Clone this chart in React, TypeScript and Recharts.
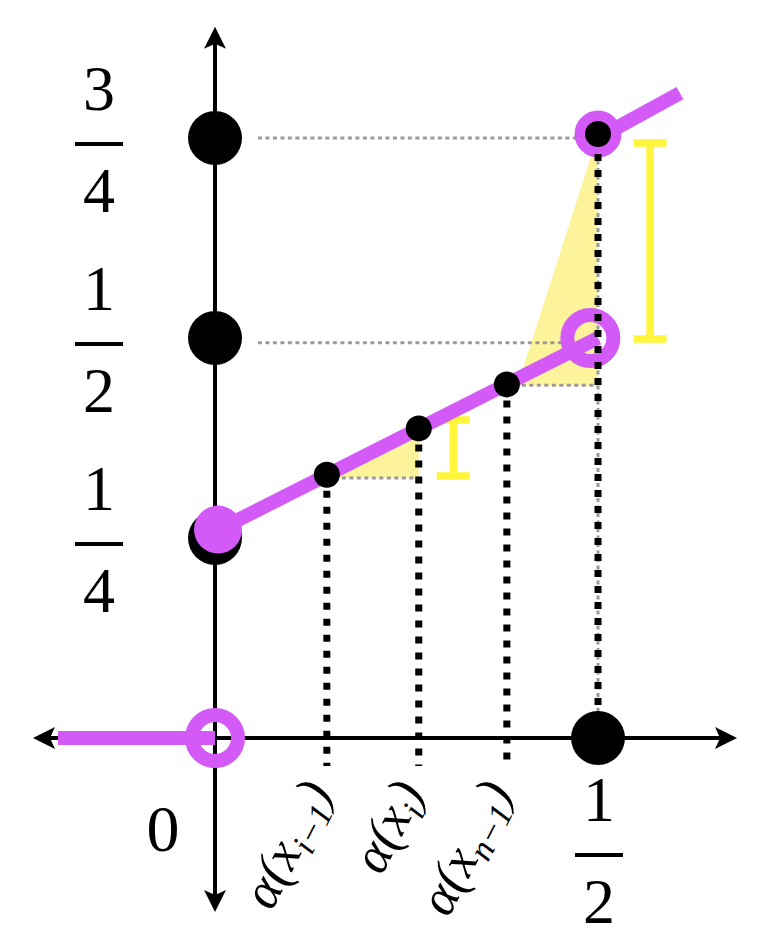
import {
  ComposedChart, XAxis, YAxis, Line, Area, Scatter, ErrorBar, ReferenceLine,
} from 'recharts';

const PURPLE = '#d35af7';
const PALE = '#fcf39a';
const YELLOW = '#fff53a';
const GRAY = '#9b9b9b';
const SERIF = '"Liberation Serif", "Times New Roman", serif';

// sample points on the ramp
const sampleX = [0.146, 0.266, 0.381];
const sampleY = [0.329, 0.387, 0.442];
const sampleSubs = ['i\u22121', 'i', 'n\u22121'];

// the purple step function
const stepLeft = [{ x: -0.205, y: 0 }, { x: 0, y: 0 }];
const rampMid = [{ x: 0, y: 0.258 }, { x: 0.5, y: 0.5 }];
const rampTop = [{ x: 0.5, y: 0.75 }, { x: 0.607, y: 0.806 }];

// markers
const tickDots = [{ x: 0, y: 0.25 }, { x: 0, y: 0.5 }, { x: 0, y: 0.75 }, { x: 0.5, y: 0 }];
const openRings = [{ x: 0, y: 0 }, { x: 0.49, y: 0.5 }];
const smallRing = [{ x: 0.5, y: 0.755 }];
const filledStart = [{ x: 0, y: 0.258 }];
const smallDots = [
  { x: sampleX[0], y: sampleY[0] },
  { x: sampleX[1], y: sampleY[1] },
  { x: sampleX[2], y: sampleY[2] },
  { x: 0.5, y: 0.755 },
];

// shaded triangles, [low, high]
const smallTri = [
  { x: sampleX[0], band: [0.325, 0.325] },
  { x: sampleX[1], band: [0.325, sampleY[1]] },
];
const bigTri = [
  { x: 0.395, band: [0.441, 0.441] },
  { x: 0.493, band: [0.441, 0.733] },
  { x: 0.5, band: [0.441, 0.733] },
];

// yellow interval bars
const gaps = [
  { x: 0.311, y: 0.3625, err: 0.035 },
  { x: 0.568, y: 0.62125, err: 0.1225 },
];

// axis arrow tips
const arrows = [
  { x: -0.2376, y: 0, dir: 'left' },
  { x: 0.6815, y: 0, dir: 'right' },
  { x: 0, y: 0.889, dir: 'up' },
  { x: 0, y: -0.2175, dir: 'down' },
];

const yTicks = [0.25, 0.5, 0.75];
const yTickFrac = [['1', '4'], ['1', '2'], ['3', '4']];
const xTicks = [0, sampleX[0], sampleX[1], sampleX[2], 0.5];

const grayGuides = [
  [{ x: 0.056, y: 0.75 }, { x: 0.48, y: 0.75 }],
  [{ x: 0.056, y: 0.494 }, { x: 0.455, y: 0.494 }],
  [{ x: sampleX[0], y: 0.325 }, { x: sampleX[1], y: 0.325 }],
  [{ x: sampleX[2], y: 0.441 }, { x: 0.5, y: 0.441 }],
  [{ x: 0.5, y: 0.75 }, { x: 0.5, y: 0 }],
];
const blackGuides = [
  [{ x: sampleX[0], y: sampleY[0] }, { x: sampleX[0], y: -0.035 }],
  [{ x: sampleX[1], y: sampleY[1] }, { x: sampleX[1], y: -0.035 }],
  [{ x: sampleX[2], y: sampleY[2] }, { x: sampleX[2], y: -0.035 }],
  [{ x: 0.5, y: 0.75 }, { x: 0.5, y: 0 }],
];

function Fraction({ cx, barY, num, den }: { cx: number; barY: number; num: string; den: string }) {
  return (
    <g>
      <text x={cx} y={barY - 34} textAnchor="middle" fontSize={64} fontFamily={SERIF} fill="#000">{num}</text>
      <line x1={cx - 24} x2={cx + 24} y1={barY} y2={barY} stroke="#000" strokeWidth={4} />
      <text x={cx} y={barY + 68} textAnchor="middle" fontSize={64} fontFamily={SERIF} fill="#000">{den}</text>
    </g>
  );
}

function YTick(props: any) {
  const i = yTicks.indexOf(props.payload.value);
  if (i < 0) return <g />;
  return <Fraction cx={99} barY={props.y + 6} num={yTickFrac[i][0]} den={yTickFrac[i][1]} />;
}

function XTick(props: any) {
  const v = props.payload.value;
  const x = props.x;
  if (v === 0) {
    return <text x={x - 52} y={851} textAnchor="middle" fontSize={66} fontFamily={SERIF} fill="#000">0</text>;
  }
  if (v === 0.5) return <Fraction cx={x + 1} barY={855} num="1" den="2" />;
  const i = sampleX.indexOf(v);
  return (
    <text
      transform={`translate(${x + 6},792) rotate(-63)`}
      textAnchor="end"
      fontSize={52}
      fontStyle="italic"
      fontFamily={SERIF}
      fill="#000"
    >
      α(x<tspan fontSize={34} dy={10}>{sampleSubs[i]}</tspan><tspan dy={-10} fontSize={52}>)</tspan>
    </text>
  );
}

const dot = (r: number, fill: string, dx = 0, dy = 0) => (p: any) => (
  <circle cx={p.cx + dx} cy={p.cy + dy} r={r} fill={fill} />
);
const ring = (r: number, w: number) => (p: any) => (
  <circle cx={p.cx} cy={p.cy} r={r} fill="none" stroke={PURPLE} strokeWidth={w} />
);
const arrowHead = (p: any) => {
  const rot: Record<string, number> = { right: 0, down: 90, left: 180, up: 270 };
  return (
    <path
      d={`M${p.cx},${p.cy} l-22,-11 l5,11 l-5,11 z`}
      transform={`rotate(${rot[p.payload.dir]} ${p.cx} ${p.cy})`}
      fill="#000"
    />
  );
};
const nothing = () => <g />;

export default function App() {
  return (
    <div style={{ position: 'absolute', left: 0, top: 0, width: 768, height: 944, background: '#fff' }}>
      <ComposedChart width={768} height={944} margin={{ top: 18, right: 16.8, bottom: 5, left: 22.5 }}>
        <XAxis
          type="number" dataKey="x" domain={[-0.25, 0.7]} allowDataOverflow
          ticks={xTicks} interval={0} tick={XTick} axisLine={false} tickLine={false} height={1}
        />
        <YAxis
          type="number" dataKey="y" domain={[-0.25, 0.9]} allowDataOverflow
          ticks={yTicks} interval={0} tick={YTick} axisLine={false} tickLine={false} width={1}
        />

        <Area data={smallTri} dataKey="band" type="linear" stroke="none" fill={PALE} fillOpacity={1}
          isAnimationActive={false} dot={false} activeDot={false} zIndex={100} />
        <Area data={bigTri} dataKey="band" type="linear" stroke="none" fill={PALE} fillOpacity={1}
          isAnimationActive={false} dot={false} activeDot={false} zIndex={100} />

        {grayGuides.map((seg, i) => (
          <ReferenceLine key={`g${i}`} segment={seg} stroke={GRAY} strokeWidth={3} strokeDasharray="4 3.5" zIndex={150} />
        ))}

        <ReferenceLine segment={[{ x: -0.222, y: 0 }, { x: 0.666, y: 0 }]} stroke="#000" strokeWidth={4} zIndex={200} />
        <ReferenceLine segment={[{ x: 0, y: 0.874 }, { x: 0, y: -0.2025 }]} stroke="#000" strokeWidth={4} zIndex={200} />
        <Scatter data={arrows} dataKey="y" shape={arrowHead} isAnimationActive={false} zIndex={210} />

        <Scatter data={gaps} dataKey="y" shape={nothing} isAnimationActive={false} zIndex={250}>
          <ErrorBar dataKey="err" direction="y" width={16.5} strokeWidth={7.5} stroke={YELLOW} zIndex={250} />
        </Scatter>

        <Line data={stepLeft} dataKey="y" type="linear" stroke={PURPLE} strokeWidth={14} dot={false}
          activeDot={false} isAnimationActive={false} zIndex={300} />
        <Line data={rampMid} dataKey="y" type="linear" stroke={PURPLE} strokeWidth={14} dot={false}
          activeDot={false} isAnimationActive={false} zIndex={300} />
        <Line data={rampTop} dataKey="y" type="linear" stroke={PURPLE} strokeWidth={14} dot={false}
          activeDot={false} isAnimationActive={false} zIndex={300} />

        <Scatter data={tickDots} dataKey="y" shape={dot(27, '#000')} isAnimationActive={false} zIndex={350} />
        <Scatter data={openRings} dataKey="y" shape={ring(23, 14)} isAnimationActive={false} zIndex={400} />
        <Scatter data={smallRing} dataKey="y" shape={ring(17.5, 12)} isAnimationActive={false} zIndex={400} />
        <Scatter data={filledStart} dataKey="y" shape={dot(24, PURPLE, 3, -2)} isAnimationActive={false} zIndex={400} />

        {blackGuides.map((seg, i) => (
          <ReferenceLine key={`b${i}`} segment={seg} stroke="#000" strokeWidth={7} strokeDasharray="7 9" zIndex={450} />
        ))}

        <Scatter data={smallDots} dataKey="y" shape={dot(13, '#000')} isAnimationActive={false} zIndex={500} />
      </ComposedChart>
    </div>
  );
}
